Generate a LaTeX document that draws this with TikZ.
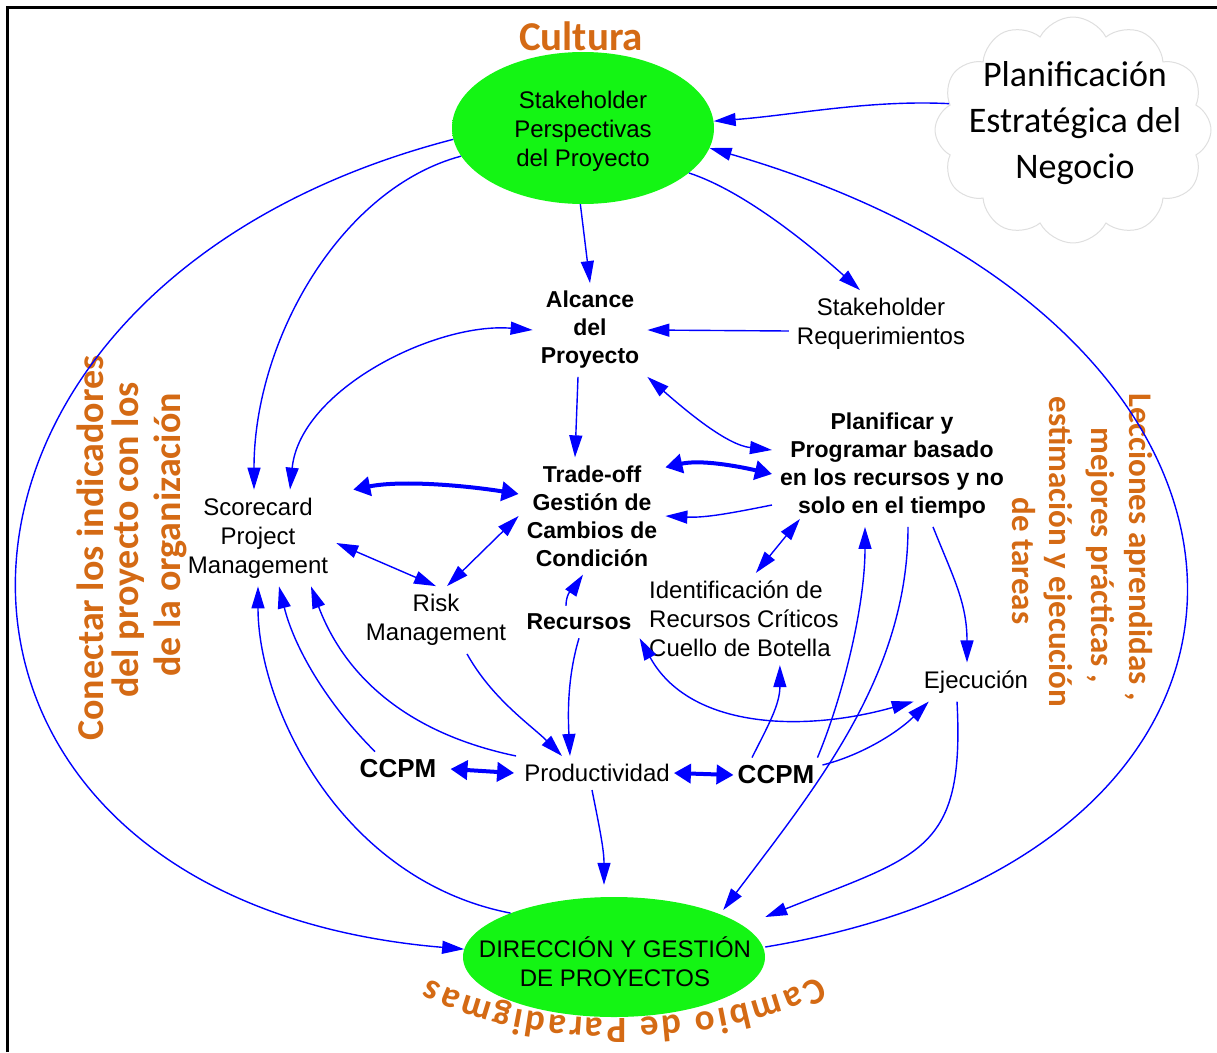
\documentclass[tikz,border=0pt]{standalone}
\usepackage{fontspec}
\setmainfont{Liberation Sans}
\newfontfamily\calib{Carlito}
\usetikzlibrary{arrows.meta,shapes.geometric,shapes.symbols,decorations.text}
\definecolor{arrowblue}{RGB}{0,0,255}
\definecolor{gA}{RGB}{20,245,20}
\definecolor{gB}{RGB}{0,205,0}
\definecolor{wordorange}{RGB}{212,106,20}
\definecolor{cloudA}{RGB}{255,255,255}
\definecolor{cloudB}{RGB}{200,200,200}
\pgfdeclareradialshading{greenball}{\pgfpoint{0bp}{0bp}}{color(0bp)=(gA); color(36bp)=(gA); color(50bp)=(gB)}
\pgfdeclareradialshading{cloudshade}{\pgfpoint{0bp}{0bp}}{color(0bp)=(cloudA); color(38bp)=(cloudA); color(50bp)=(cloudB)}
\begin{document}
\begin{tikzpicture}[x=1pt,y=-1pt,
  conn/.style={draw=arrowblue, line width=1.4pt},
  tip/.style={-{Triangle[length=22pt,width=13pt]}},
  both/.style={{Triangle[length=22pt,width=13pt]}-{Triangle[length=22pt,width=13pt]}},
  thickarrow/.style={draw=arrowblue, line width=4pt, {Triangle[length=17pt,width=19pt]}-{Triangle[length=17pt,width=19pt]}},
  regtxt/.style={font=\fontsize{24}{29}\selectfont, align=center, inner sep=8pt},
  boldtxt/.style={font=\fontsize{23}{28}\selectfont\bfseries, align=center, inner sep=8pt},
  ccpmtxt/.style={font=\fontsize{26}{30}\selectfont\bfseries, align=center, inner sep=8pt},
  oval/.style={ellipse, shade, shading=greenball, inner sep=0pt},
  wa/.style={font=\calib\bfseries\fontsize{38}{40}\selectfont, text=wordorange, inner sep=0pt},
  wb/.style={font=\calib\bfseries\fontsize{33}{36}\selectfont, text=wordorange, inner sep=0pt},
]
\useasboundingbox (0,0) rectangle (1217,1052);
% frame
\draw[line width=3pt] (7,1052) -- (7,7) -- (1217,7);

% word art: left
\node[wa, rotate=90] (c1) at (90,548) {Conectar los indicadores};
\node[wa, rotate=90] (c2) at (128,540) {del proyecto con los};
\node[wa, rotate=90] (c3) at (170,535) {de la organización};
% word art: right
\node[wb, rotate=-90] (l1) at (1138,547) {Lecciones aprendidas ,};
\node[wb, rotate=-90] (l2) at (1100,555) {mejores prácticas ,};
\node[wb, rotate=-90] (l3) at (1058,552) {estimación y ejecución};
\node[wb, rotate=-90] (l4) at (1024,561) {de tareas};
% Cultura
\node[wa, font=\calib\bfseries\fontsize{41}{41}\selectfont] (cult) at (581,36) {Cultura};

% ovals and cloud
\node[oval, minimum width=262pt, minimum height=152pt] (top) at (583,128) {};
\node[regtxt] (toptxt) at (583,131) {Stakeholder\\Perspectivas\\del Proyecto};
\node[oval, minimum width=302pt, minimum height=120pt] (bot) at (614,957) {};
\node[regtxt] (bottxt) at (615,962) {DIRECCIÓN Y GESTIÓN\\DE PROYECTOS};
\node[cloud, cloud puffs=12, cloud puff arc=125, aspect=1.25, minimum width=276pt, minimum height=226pt,
      shade, shading=cloudshade, draw=gray!25, line width=1pt] (cloud) at (1073,130) {};
\node[font=\calib\fontsize{36}{46}\selectfont, align=center] (cloudtxt) at (1075,123) {Planificación\\Estratégica del\\Negocio};

% Cambio de Paradigmas
\coordinate (cambR) at (818,976);
\coordinate (cambL) at (430,979);
\path[decorate, decoration={text along path, text align={fit to path}, text color=wordorange,
   text={|\calib\bfseries\fontsize{37}{37}\selectfont|Cambio de Paradigmas}}]
   (cambR) .. controls +(-105,56) and +(95,53) .. (cambL);

% text nodes
\node[boldtxt] (alc) at (590,330) {Alcance\\del\\Proyecto};
\node[regtxt] (sreq) at (881,324) {Stakeholder\\Requerimientos};
\node[boldtxt] (trade) at (592,516) {Trade-off\\Gestión de\\Cambios de\\Condición};
\node[boldtxt] (plan) at (892,466) {Planificar y\\Programar basado\\en los recursos y no\\solo en el tiempo};
\node[regtxt] (score) at (258,538) {Scorecard\\Project\\Management};
\node[regtxt] (risk) at (436,620) {Risk\\Management};
\node[boldtxt] (rec) at (579,622) {Recursos};
\node[regtxt, align=left, anchor=west] (ident) at (641,619) {Identificación de\\Recursos Críticos\\Cuello de Botella};
\node[regtxt] (ejec) at (976,682) {Ejecución};
\node[ccpmtxt] (ccpma) at (398,769) {CCPM};
\node[regtxt] (prod) at (597,773) {Productividad};
\node[ccpmtxt] (ccpmb) at (776,775) {CCPM};

% connectors
\draw[conn,tip] (cloud.168) .. controls +(-80,-4) and +(80,-6) .. (top.3);
\draw[conn,tip] ([yshift=10pt]bot.east) .. controls +(573,-95) and +(620,180) .. (top.-9);
\draw[conn,tip] (top.185) .. controls +(-580,150) and +(-595,-50) .. (bot.177);
\draw[conn,tip] (top.193) .. controls +(-120,32) and +(0,-150) .. ([xshift=-4pt]score.north);
\draw[conn,tip] (top.268) -- (alc.north);
\draw[conn,tip] (top.-23) .. controls +(55,18) and +(-50,-45) .. ([xshift=-21pt]sreq.north);
\draw[conn,tip] ([yshift=-7pt]sreq.west) -- (alc.east);
\draw[conn,both] ([xshift=32pt]score.north) .. controls +(10,-100) and +(-97,-8) .. (alc.west);
\draw[conn,tip] ([xshift=-12pt]alc.south) -- ([xshift=-17pt]trade.north);
\draw[conn,both] (alc.south east) .. controls +(40,35) and +(-45,-5) .. ([yshift=16pt]plan.west);
\draw[thickarrow] ([yshift=-10pt]trade.north east) .. controls +(35,-8) and +(-35,-8) .. ([yshift=-8pt]plan.west);
\draw[conn,tip] ([yshift=-39pt]plan.west) .. controls +(-40,8) and +(40,2) .. (trade.east);
\draw[thickarrow] ([xshift=17pt]score.north east) .. controls +(50,-10) and +(-50,-8) .. ([yshift=22pt]trade.west);
\draw[conn,both] ([yshift=-5pt]score.east) -- (risk.north);
\draw[conn,both] ([xshift=11pt]risk.north) -- (trade.west);
\draw[conn,tip] ([xshift=-13pt]rec.north) .. controls +(0,-15) and +(-8,12) .. ([xshift=-9pt]trade.south);
\draw[conn,both] ([xshift=28pt,yshift=8pt]plan.south west) -- ([xshift=12pt]ident.north);
\draw[conn,tip] ([xshift=41pt]plan.south) .. controls +(20,50) and +(0,-60) .. ([xshift=-9pt]ejec.north);
\draw[conn,tip] ([xshift=31pt]risk.south) .. controls +(25,45) and +(-30,-30) .. ([xshift=-35pt]prod.north);
\draw[conn,tip] (rec.south) .. controls +(-12,40) and +(-2,-40) .. ([xshift=-27pt]prod.north);
\draw[conn,tip] (prod.north west) .. controls +(-120,-25) and +(30,80) .. ([xshift=53pt]score.south);
\draw[conn,tip] ([xshift=-23pt]ccpma.north) .. controls +(-50,-50) and +(15,60) .. ([xshift=21pt]score.south);
\draw[conn,tip] (bot.157) .. controls +(-170,-33) and +(0,120) .. (score.south);
\draw[thickarrow] ([xshift=6pt]ccpma.east) -- ([xshift=-2pt]prod.west);
\draw[thickarrow] ([xshift=-4pt]prod.east) -- ([xshift=4pt]ccpmb.west);
\draw[conn,tip] ([xshift=-5pt]prod.south) .. controls +(8,40) and +(0,-35) .. ([xshift=-10pt,yshift=12pt]bot.north);
\draw[conn,both] (rec.south east) .. controls +(50,91) and +(-110,31) .. ([xshift=-2pt]ejec.south west);
\draw[conn,tip] ([xshift=-24pt]ccpmb.north) .. controls +(15,-30) and +(0,40) .. ([xshift=36pt]ident.south);
\draw[conn,tip] ([yshift=10pt]ccpmb.east) .. controls +(40,-10) and +(-30,30) .. ([xshift=13pt]ejec.south west);
\draw[conn,tip] ([xshift=-5pt]ccpmb.north east) .. controls +(25,-60) and +(0,80) .. ([xshift=-27pt]plan.south);
\draw[conn,tip] ([xshift=16pt]plan.south) .. controls +(0,150) and +(90,-120) .. ([xshift=-42pt,yshift=47pt]bot.east);
\draw[conn,tip] ([xshift=-19pt]ejec.south) .. controls +(8,151) and +(155,-62) .. ([yshift=40pt]bot.east);
\end{tikzpicture}
\end{document}
